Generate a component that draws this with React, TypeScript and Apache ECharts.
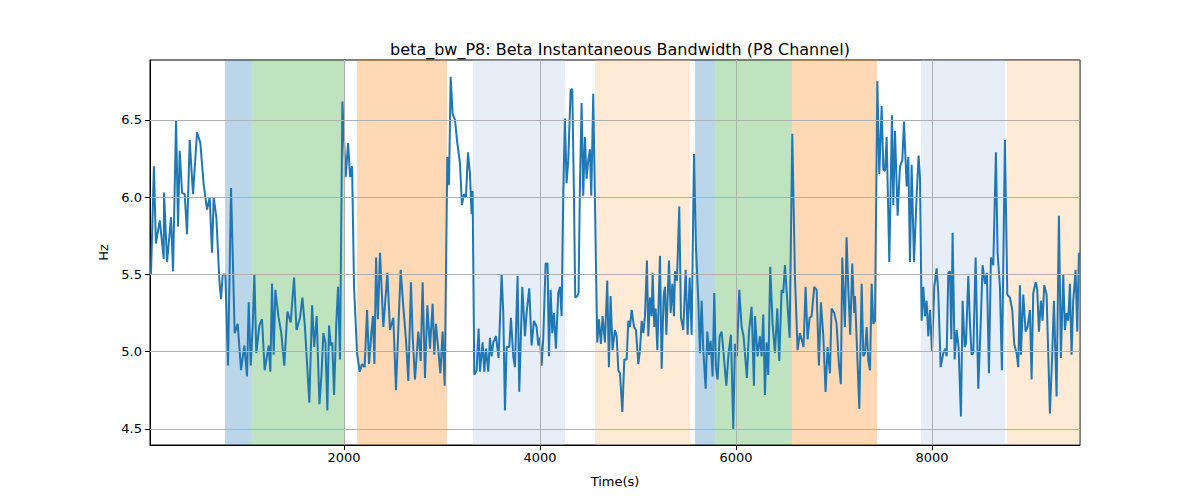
import { useEffect, useRef } from 'react'
import * as echarts from 'echarts'

// time (s) and bandwidth (Hz)
const times = [
  30, 60, 80, 120, 160, 163, 194, 235, 255, 286, 306, 323, 347, 374, 398, 425, 459, 500, 534, 568, 602, 629, 653, 670, 697, 728, 745, 762, 789,
  816, 847, 884, 915, 949, 983, 1010, 1027, 1048, 1068, 1085, 1105, 1136, 1163, 1190, 1231, 1248, 1265, 1282, 1299, 1330, 1360, 1390, 1422, 1456,
  1490, 1515, 1551, 1575, 1600, 1646, 1674, 1695, 1721, 1749, 1770, 1789, 1810, 1830, 1847, 1864, 1880, 1898, 1920, 1939, 1959, 1983, 2017, 2041,
  2062, 2082, 2102, 2133, 2160, 2184, 2210, 2235, 2255, 2279, 2295, 2310, 2327, 2345, 2367, 2401, 2442, 2469, 2503, 2530, 2554, 2578, 2605, 2632,
  2656, 2683, 2700, 2724, 2758, 2782, 2802, 2826, 2850, 2877, 2904, 2921, 2938, 2962, 2983, 3006, 3027, 3054, 3071, 3088, 3108, 3132, 3156, 3183,
  3203, 3224, 3244, 3265, 3285, 3302, 3312, 3329, 3353, 3373, 3387, 3414, 3431, 3448, 3472, 3489, 3506, 3523, 3550, 3577, 3608, 3625, 3642, 3659,
  3686, 3703, 3727, 3744, 3771, 3788, 3819, 3846, 3863, 3890, 3914, 3938, 3965, 3982, 3999, 4016, 4033, 4057, 4077, 4091, 4108, 4125, 4142, 4162,
  4186, 4203, 4220, 4237, 4254, 4271, 4288, 4312, 4329, 4346, 4359, 4380, 4393, 4407, 4424, 4441, 4458, 4475, 4492, 4509, 4523, 4543, 4570, 4584,
  4601, 4621, 4638, 4662, 4686, 4703, 4720, 4740, 4764, 4782, 4799, 4816, 4840, 4860, 4884, 4901, 4918, 4935, 4959, 4979, 5003, 5020, 5037, 5054,
  5071, 5091, 5105, 5122, 5139, 5149, 5166, 5180, 5197, 5224, 5241, 5261, 5275, 5289, 5316, 5333, 5350, 5367, 5377, 5397, 5421, 5438, 5462, 5486,
  5506, 5527, 5547, 5571, 5591, 5615, 5632, 5649, 5666, 5690, 5707, 5724, 5741, 5761, 5778, 5795, 5812, 5833, 5853, 5873, 5901, 5924, 5948, 5972,
  5989, 6009, 6033, 6057, 6077, 6111, 6132, 6159, 6183, 6193, 6220, 6244, 6261, 6278, 6295, 6312, 6329, 6349, 6373, 6397, 6421, 6441, 6465, 6482,
  6499, 6523, 6547, 6574, 6601, 6628, 6652, 6669, 6689, 6710, 6730, 6751, 6771, 6798, 6822, 6846, 6866, 6890, 6914, 6934, 6958, 6975, 7002, 7026,
  7050, 7070, 7084, 7111, 7128, 7145, 7165, 7186, 7206, 7214, 7231, 7258, 7282, 7299, 7316, 7333, 7350, 7367, 7384, 7401, 7418, 7442, 7462, 7486,
  7503, 7520, 7537, 7564, 7591, 7605, 7622, 7649, 7673, 7697, 7714, 7741, 7758, 7775, 7792, 7816, 7843, 7863, 7877, 7894, 7911, 7928, 7945, 7962,
  7979, 8000, 8023, 8047, 8064, 8088, 8115, 8135, 8149, 8166, 8183, 8197, 8210, 8231, 8251, 8271, 8295, 8312, 8333, 8346, 8370, 8387, 8404, 8421,
  8445, 8472, 8496, 8516, 8540, 8560, 8581, 8601, 8625, 8652, 8669, 8693, 8713, 8744, 8768, 8795, 8819, 8839, 8863, 8880, 8897, 8907, 8931, 8955,
  8975, 8999, 9016, 9033, 9057, 9074, 9091, 9111, 9128, 9145, 9169, 9186, 9203, 9227, 9244, 9271, 9295, 9315, 9339, 9356, 9373, 9390, 9407, 9424,
  9441, 9465, 9482, 9499,
]
const values = [
  5.5, 6.2, 5.7, 5.85, 5.6, 6.03, 5.58, 5.87, 5.52, 6.5, 5.81, 6.3, 6.03, 6.02, 5.76, 6.37, 6.02, 6.42, 6.35, 6.08, 5.92, 6.0, 5.64, 6.0, 5.87, 5.46, 5.34, 5.5, 5.5,
  4.91, 6.06, 5.12, 5.18, 4.88, 5.04, 4.84, 5.32, 4.91, 5.17, 5.5, 4.99, 5.17, 5.21, 4.88, 5.04, 4.87, 5.44, 4.98, 5.4, 5.23, 5.12, 4.91, 5.26, 5.19,
  5.48, 5.14, 5.22, 5.35, 5.17, 4.67, 5.3, 5.03, 5.23, 4.66, 4.85, 5.12, 5.06, 4.62, 5.17, 5.04, 5.06, 4.72, 5.17, 5.42, 4.95, 6.62, 6.13, 6.35,
  6.13, 6.2, 5.42, 4.99, 4.87, 4.92, 4.9, 5.27, 4.92, 5.12, 5.23, 4.92, 5.61, 5.21, 5.64, 5.16, 5.51, 5.14, 5.22, 4.75, 5.15, 5.53, 5.29, 5.08,
  4.81, 5.45, 5.1, 4.82, 5.13, 4.94, 5.45, 4.83, 5.3, 5.02, 5.31, 4.98, 5.18, 5.01, 4.86, 5.13, 4.78, 6.26, 6.08, 6.78, 6.54, 6.5, 6.35, 6.22,
  5.95, 6.02, 6.0, 6.29, 6.15, 5.89, 6.04, 4.85, 4.88, 5.15, 4.87, 5.06, 4.87, 5.02, 4.87, 5.09, 4.97, 5.06, 5.1, 4.96, 5.5, 5.25, 4.62, 5.03,
  5.03, 5.22, 4.97, 4.9, 5.49, 4.74, 5.42, 5.1, 5.25, 5.41, 5.04, 5.2, 5.16, 5.04, 5.09, 4.91, 5.09, 5.57, 5.57, 4.97, 5.4, 5.12, 5.25, 5.02,
  5.38, 5.42, 5.23, 6.02, 6.51, 6.09, 6.24, 6.69, 6.7, 6.02, 5.35, 5.36, 5.38, 6.07, 6.61, 6.01, 6.39, 6.12, 6.24, 6.31, 6.01, 6.67, 5.59, 5.06,
  5.21, 5.05, 5.23, 5.06, 5.46, 4.9, 5.36, 5.01, 5.14, 5.1, 4.88, 4.86, 4.61, 4.95, 4.95, 5.2, 5.16, 5.27, 5.16, 5.14, 4.92, 5.01, 5.2, 5.12,
  5.23, 5.59, 5.1, 5.35, 5.23, 5.51, 5.16, 5.28, 5.01, 5.62, 4.89, 5.36, 5.42, 5.11, 5.59, 5.25, 5.44, 5.23, 5.52, 5.46, 5.94, 5.22, 5.14, 5.53,
  5.11, 5.48, 5.11, 6.28, 5.68, 5.33, 4.99, 5.33, 5.01, 4.76, 5.13, 4.98, 5.07, 4.84, 5.38, 4.9, 4.82, 5.1, 5.13, 4.99, 4.78, 4.99, 5.11, 4.5,
  5.05, 4.97, 5.4, 5.16, 5.1, 4.83, 5.13, 5.29, 4.78, 5.23, 4.97, 5.1, 4.97, 5.24, 4.72, 5.06, 4.85, 5.55, 5.18, 4.99, 5.28, 4.94, 5.4, 5.38,
  5.56, 5.33, 5.09, 6.41, 5.49, 5.01, 5.12, 5.08, 5.03, 5.42, 5.08, 5.22, 5.23, 5.42, 5.4, 4.91, 5.32, 5.11, 4.74, 5.03, 4.86, 5.28, 5.25, 5.18,
  4.92, 4.79, 5.61, 5.16, 5.74, 5.42, 5.11, 5.57, 5.25, 5.36, 5.08, 4.63, 5.44, 4.97, 4.99, 5.16, 4.94, 4.88, 5.44, 5.18, 5.2, 6.75, 6.15, 6.59,
  6.18, 6.17, 6.39, 5.58, 6.53, 5.95, 6.43, 5.88, 6.2, 6.24, 6.49, 6.07, 6.26, 5.58, 6.21, 5.58, 6.01, 6.27, 6.13, 5.2, 5.42, 5.23, 5.33, 5.1,
  5.27, 5.0, 5.42, 5.54, 5.38, 4.9, 4.99, 5.02, 4.97, 5.51, 5.52, 5.08, 5.77, 4.95, 5.14, 5.03, 4.58, 5.33, 5.03, 5.05, 5.49, 5.18, 4.98, 4.99,
  5.61, 4.76, 5.17, 5.56, 5.44, 5.51, 4.86, 5.61, 5.56, 6.29, 5.64, 5.42, 4.88, 6.37, 5.37, 5.35, 5.27, 5.05, 4.99, 4.9, 5.43, 4.98, 5.37, 5.13,
  5.16, 5.27, 4.82, 5.38, 5.45, 5.4, 5.13, 5.33, 5.2, 5.43, 5.37, 4.99, 4.6, 4.99, 5.33, 4.71, 5.88, 4.96, 5.5, 5.14, 5.25, 5.2, 5.44, 4.98,
  5.33, 5.53, 5.13, 5.64,
]

// shaded phases: start, end, colour
const phaseStarts = [786, 1051, 2133, 3316, 4561, 5582, 5786, 6571, 7888, 8765]
const phaseEnds = [1051, 2000, 3051, 4255, 5531, 5786, 6571, 7439, 8745, 9510]
const phaseColors = [
  'rgba(31,119,180,0.3)', 'rgba(44,160,44,0.3)', 'rgba(255,127,14,0.3)', 'rgba(174,199,232,0.3)', 'rgba(255,187,120,0.3)',
  'rgba(31,119,180,0.3)', 'rgba(44,160,44,0.3)', 'rgba(255,127,14,0.3)', 'rgba(174,199,232,0.3)', 'rgba(255,187,120,0.3)',
]

const xTicks = [2000, 4000, 6000, 8000]
const yTicks = [4.5, 5.0, 5.5, 6.0, 6.5]

const font = 'DejaVu Sans'

export default function App() {
  const ref = useRef<HTMLDivElement>(null)

  useEffect(() => {
    if (!ref.current) return
    const chart = echarts.init(ref.current, undefined, { renderer: 'svg' })
    const gridLine = { color: '#b0b0b0', width: 1, type: 'solid' as const }

    chart.setOption({
      animation: false,
      backgroundColor: '#fff',
      textStyle: { fontFamily: font },
      title: {
        text: 'beta_bw_P8: Beta Instantaneous Bandwidth (P8 Channel)',
        left: 615,
        textAlign: 'center',
        top: 36,
        textStyle: { fontFamily: font, fontSize: 16, fontWeight: 'normal', color: '#000' },
      },
      grid: { left: 150, right: 120, top: 60, bottom: 55, show: true, borderColor: '#000', borderWidth: 1, backgroundColor: 'transparent' },
      xAxis: {
        type: 'value',
        min: 20,
        max: 9510,
        name: 'Time(s)',
        nameLocation: 'middle',
        nameGap: 30,
        nameTextStyle: { fontFamily: font, fontSize: 13, color: '#000' },
        axisLine: { lineStyle: { color: '#000' } },
        axisTick: { customValues: xTicks, length: 5, lineStyle: { color: '#000' } },
        axisLabel: { customValues: xTicks, fontFamily: font, fontSize: 13, color: '#000', margin: 6, formatter: (v: number) => String(v) },
        splitLine: { show: false },
      },
      yAxis: {
        type: 'value',
        min: 4.396,
        max: 6.888,
        name: 'Hz',
        nameLocation: 'middle',
        nameGap: 38,
        nameTextStyle: { fontFamily: font, fontSize: 13, color: '#000' },
        axisLine: { show: true, lineStyle: { color: '#000' } },
        axisTick: { show: true, customValues: yTicks, length: 5, lineStyle: { color: '#000' } },
        axisLabel: { customValues: yTicks, fontFamily: font, fontSize: 13, color: '#000', formatter: (v: number) => v.toFixed(1) },
        splitLine: { show: false },
      },
      series: [
        {
          type: 'line',
          silent: true,
          data: [],
          markArea: {
            silent: true,
            data: phaseStarts.map((s, i) => [
              { xAxis: s, itemStyle: { color: phaseColors[i] } },
              { xAxis: phaseEnds[i] },
            ]),
          },
          markLine: {
            silent: true,
            symbol: 'none',
            label: { show: false },
            lineStyle: gridLine,
            data: [...xTicks.map(x => ({ xAxis: x })), ...yTicks.map(y => ({ yAxis: y }))],
          },
        },
        {
          type: 'line',
          symbol: 'none',
          lineStyle: { color: '#1f77b4', width: 2 },
          itemStyle: { color: '#1f77b4' },
          data: times.map((t, i) => [t, values[i]]),
        },
      ],
    })

    return () => chart.dispose()
  }, [])

  return <div ref={ref} style={{ position: 'fixed', left: 0, top: 0, width: 1200, height: 500 }} />
}
